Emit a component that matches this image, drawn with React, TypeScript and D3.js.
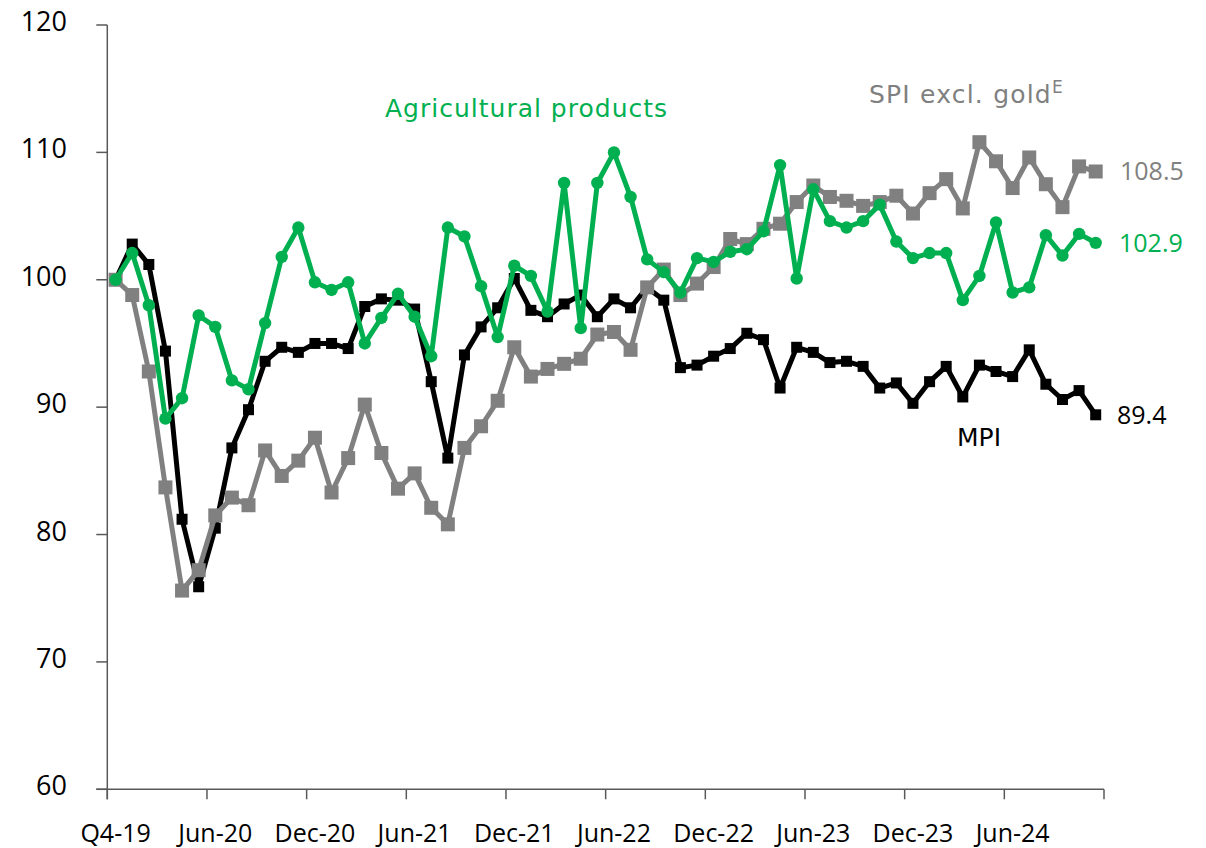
import React, { useEffect, useRef } from 'react';
import * as d3 from 'd3';

const categories: string[] = [
  'Q4-19', 'Jan-20', 'Feb-20', 'Mar-20', 'Apr-20', 'May-20', 'Jun-20', 'Jul-20', 'Aug-20', 'Sep-20', 'Oct-20', 'Nov-20',
  'Dec-20', 'Jan-21', 'Feb-21', 'Mar-21', 'Apr-21', 'May-21', 'Jun-21', 'Jul-21', 'Aug-21', 'Sep-21', 'Oct-21', 'Nov-21',
  'Dec-21', 'Jan-22', 'Feb-22', 'Mar-22', 'Apr-22', 'May-22', 'Jun-22', 'Jul-22', 'Aug-22', 'Sep-22', 'Oct-22', 'Nov-22',
  'Dec-22', 'Jan-23', 'Feb-23', 'Mar-23', 'Apr-23', 'May-23', 'Jun-23', 'Jul-23', 'Aug-23', 'Sep-23', 'Oct-23', 'Nov-23',
  'Dec-23', 'Jan-24', 'Feb-24', 'Mar-24', 'Apr-24', 'May-24', 'Jun-24', 'Jul-24', 'Aug-24', 'Sep-24', 'Oct-24', 'Nov-24',
];

const tickLabels: string[] = ['Q4-19', 'Jun-20', 'Dec-20', 'Jun-21', 'Dec-21', 'Jun-22', 'Dec-22', 'Jun-23', 'Dec-23', 'Jun-24'];
const yTicks: number[] = [60, 70, 80, 90, 100, 110, 120];

const mpi: number[] = [
  100, 102.8, 101.2, 94.4, 81.2, 75.9, 80.5, 86.8, 89.8, 93.6,
  94.7, 94.3, 95.0, 95.0, 94.6, 97.9, 98.5, 98.4, 97.7, 92.0,
  86.0, 94.1, 96.3, 97.8, 100.1, 97.6, 97.1, 98.1, 98.8, 97.1,
  98.5, 97.8, 99.4, 98.4, 93.1, 93.3, 94.0, 94.6, 95.8, 95.3,
  91.5, 94.7, 94.3, 93.5, 93.6, 93.2, 91.5, 91.9, 90.3, 92.0,
  93.2, 90.8, 93.3, 92.8, 92.4, 94.5, 91.8, 90.6, 91.3, 89.4,
];

const spi: number[] = [
  100, 98.8, 92.8, 83.7, 75.6, 77.2, 81.5, 82.9, 82.3, 86.6,
  84.6, 85.8, 87.6, 83.3, 86.0, 90.2, 86.4, 83.6, 84.8, 82.1,
  80.8, 86.8, 88.5, 90.5, 94.7, 92.4, 93.0, 93.4, 93.8, 95.7,
  95.9, 94.5, 99.4, 100.8, 98.8, 99.7, 101.0, 103.2, 102.8, 104.0,
  104.4, 106.1, 107.4, 106.5, 106.2, 105.8, 106.1, 106.6, 105.2, 106.8,
  107.9, 105.6, 110.8, 109.3, 107.2, 109.6, 107.5, 105.7, 108.9, 108.5,
];

const agri: number[] = [
  100, 102.1, 98.0, 89.1, 90.7, 97.2, 96.3, 92.1, 91.4, 96.6,
  101.8, 104.1, 99.8, 99.2, 99.8, 95.0, 97.0, 98.9, 97.1, 94.0,
  104.1, 103.4, 99.5, 95.5, 101.1, 100.3, 97.5, 107.6, 96.2, 107.6,
  110.0, 106.5, 101.6, 100.6, 99.0, 101.7, 101.4, 102.2, 102.4, 103.8,
  109.0, 100.1, 107.1, 104.6, 104.1, 104.6, 105.9, 103.0, 101.7, 102.1,
  102.1, 98.4, 100.3, 104.5, 99.0, 99.4, 103.5, 101.9, 103.6, 102.9,
];

const endLabels = { mpi: '89.4', spi: '108.5', agri: '102.9' };

const W = 1206;
const H = 848;
const FONT = "'Open Sans', 'Noto Sans', sans-serif";
const FONT_WIDE = "'DejaVu Sans', 'Open Sans', sans-serif";

export default function App() {
  const ref = useRef<SVGSVGElement>(null);

  useEffect(() => {
    const svg = d3.select(ref.current);
    svg.selectAll('*').remove();

    const left = 107.3;
    const right = 1104;
    const top = 25;
    const bottom = 789.3;

    const x = d3.scaleBand<number>().domain(d3.range(categories.length)).range([left, right]).padding(0);
    const cx = (i: number) => (x(i) as number) + x.bandwidth() / 2;
    const y = d3.scaleLinear().domain([60, 120]).range([bottom, top]);

    const axisColor = '#595959';
    const g = svg.append('g');

    // y axis
    g.append('line').attr('x1', left).attr('x2', left).attr('y1', top).attr('y2', bottom + 10)
      .attr('stroke', axisColor).attr('stroke-width', 1.5);
    yTicks.forEach((t) => {
      g.append('line').attr('x1', left - 11).attr('x2', left).attr('y1', y(t)).attr('y2', y(t))
        .attr('stroke', axisColor).attr('stroke-width', 1.5);
      g.append('text').attr('x', 67).attr('y', y(t) + 6).attr('text-anchor', 'end')
        .attr('font-family', FONT).attr('font-size', 27).attr('fill', '#000').text(String(t));
    });

    // x axis
    g.append('line').attr('x1', left - 11).attr('x2', right).attr('y1', bottom).attr('y2', bottom)
      .attr('stroke', axisColor).attr('stroke-width', 1.5);
    const tickIdx = d3.range(0, categories.length + 1, 6);
    tickIdx.forEach((i) => {
      const tx = i < categories.length ? (x(i) as number) : right;
      g.append('line').attr('x1', tx).attr('x2', tx).attr('y1', bottom).attr('y2', bottom + 10)
        .attr('stroke', axisColor).attr('stroke-width', 1.5);
    });
    tickLabels.forEach((lab) => {
      const i = categories.indexOf(lab);
      g.append('text').attr('x', cx(i)).attr('y', 842).attr('text-anchor', 'middle')
        .attr('font-family', FONT).attr('font-size', 25).attr('fill', '#000').text(lab);
    });

    const line = d3.line<number>().x((_, i) => cx(i)).y((d) => y(d));

    // MPI (black)
    g.append('path').attr('d', line(mpi) as string).attr('fill', 'none').attr('stroke', '#000')
      .attr('stroke-width', 5).attr('stroke-linejoin', 'round');
    g.selectAll('.mpiPt').data(mpi).enter().append('rect')
      .attr('x', (_, i) => cx(i) - 5.5).attr('y', (d) => y(d) - 5.5).attr('width', 11).attr('height', 11)
      .attr('fill', '#000');

    // SPI excl. gold (gray)
    g.append('path').attr('d', line(spi) as string).attr('fill', 'none').attr('stroke', '#808080')
      .attr('stroke-width', 5).attr('stroke-linejoin', 'round');
    g.selectAll('.spiPt').data(spi).enter().append('rect')
      .attr('x', (_, i) => cx(i) - 7).attr('y', (d) => y(d) - 7).attr('width', 14).attr('height', 14)
      .attr('fill', '#808080');

    // Agricultural products (green)
    g.append('path').attr('d', line(agri) as string).attr('fill', 'none').attr('stroke', '#00B050')
      .attr('stroke-width', 5).attr('stroke-linejoin', 'round');
    g.selectAll('.agriPt').data(agri).enter().append('circle')
      .attr('cx', (_, i) => cx(i)).attr('cy', (d) => y(d)).attr('r', 6.2)
      .attr('fill', '#00B050');

    // End labels
    const last = categories.length - 1;
    g.append('text').attr('x', 1120).attr('y', y(spi[last]) + 9).attr('font-family', FONT).attr('font-size', 25)
      .attr('fill', '#808080').text(endLabels.spi);
    g.append('text').attr('x', 1119).attr('y', y(agri[last]) + 9).attr('font-family', FONT).attr('font-size', 25)
      .attr('fill', '#00B050').text(endLabels.agri);
    g.append('text').attr('x', 1117).attr('y', y(mpi[last]) + 9).attr('font-family', FONT).attr('font-size', 25)
      .attr('fill', '#000').text(endLabels.mpi);

    // Series names
    g.append('text').attr('x', 385).attr('y', 117).attr('font-family', FONT_WIDE).attr('font-size', 25)
      .attr('letter-spacing', 1).attr('fill', '#00B050').text('Agricultural products');
    const spiT = g.append('text').attr('x', 869).attr('y', 103).attr('font-family', FONT_WIDE).attr('font-size', 25)
      .attr('fill', '#808080');
    spiT.append('tspan').attr('letter-spacing', 1.2).text('SPI excl. gold');
    spiT.append('tspan').attr('font-size', 17).attr('dy', -10).text('E');
    g.append('text').attr('x', 957).attr('y', 446).attr('font-family', FONT_WIDE).attr('font-size', 25)
      .attr('fill', '#000').text('MPI');
  }, []);

  return (
    <svg ref={ref} width={W} height={H} viewBox={`0 0 ${W} ${H}`}
      style={{ position: 'absolute', left: 0, top: 0, background: '#fff', display: 'block' }} />
  );
}
